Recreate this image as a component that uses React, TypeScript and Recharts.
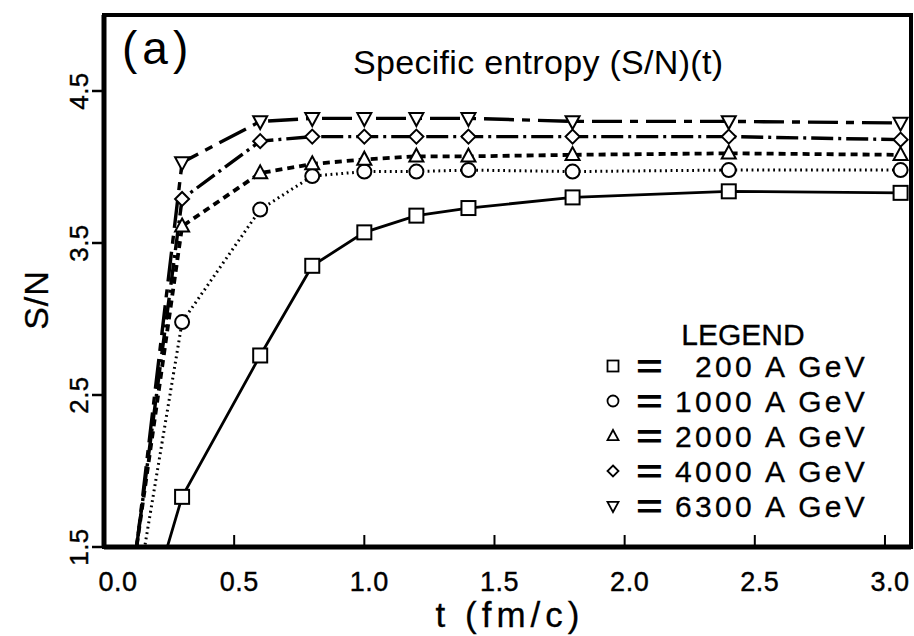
import React from "react";
import { LineChart, Line, XAxis, YAxis, ReferenceArea, Legend } from "recharts";

// time steps (fm/c) and S/N for each beam energy
const times = [0.1, 0.3, 0.6, 0.8, 1.0, 1.2, 1.4, 1.8, 2.4, 3.06];
const sn200 = [0.67, 1.83, 2.76, 3.35, 3.57, 3.68, 3.73, 3.8, 3.84, 3.83];
const sn1000 = [0.92, 2.98, 3.72, 3.94, 3.97, 3.97, 3.98, 3.97, 3.98, 3.98];
const sn2000 = [1.2, 3.61, 3.96, 4.02, 4.05, 4.07, 4.07, 4.08, 4.09, 4.08];
const sn4000 = [1.17, 3.79, 4.17, 4.2, 4.2, 4.2, 4.2, 4.2, 4.2, 4.18];
const sn6300 = [1.13, 4.03, 4.3, 4.32, 4.32, 4.32, 4.32, 4.3, 4.3, 4.29];

const seriesNames = ["200 A GeV", "1000 A GeV", "2000 A GeV", "4000 A GeV", "6300 A GeV"];
const xTicks = [0, 0.5, 1.0, 1.5, 2.0, 2.5, 3.0];
const yTicks = [1.5, 2.5, 3.5, 4.5];

const data = times.map((t, i) => ({
  t,
  e200: sn200[i],
  e1000: sn1000[i],
  e2000: sn2000[i],
  e4000: sn4000[i],
  e6300: sn6300[i],
}));

const series = [
  { key: "e200", shape: "square", dash: undefined, width: 2.8 },
  { key: "e1000", shape: "circle", dash: "1.8 3.6", width: 3 },
  { key: "e2000", shape: "up", dash: "7 5", width: 3.8 },
  { key: "e4000", shape: "diamond", dash: "22 5 3 5", width: 3.4 },
  { key: "e6300", shape: "down", dash: "30 8 8 8", width: 3.4 },
];

const FONT = "'Liberation Sans', Arial, Helvetica, sans-serif";

function Marker({ shape, cx, cy, size, sw }: { shape: string; cx: number; cy: number; size: number; sw: number }) {
  const h = size / 2;
  const common = { fill: "#fff", stroke: "#000", strokeWidth: sw };
  if (shape === "square") return <rect x={cx - h} y={cy - h} width={size} height={size} {...common} />;
  if (shape === "circle") return <circle cx={cx} cy={cy} r={h} {...common} />;
  if (shape === "diamond")
    return <polygon points={`${cx},${cy - h} ${cx + h},${cy} ${cx},${cy + h} ${cx - h},${cy}`} {...common} />;
  if (shape === "up")
    return (
      <polygon
        points={`${cx},${cy - h * 1.1} ${cx + h},${cy + h * 0.75} ${cx - h},${cy + h * 0.75}`}
        {...common}
      />
    );
  return (
    <polygon
      points={`${cx},${cy + h * 1.1} ${cx + h},${cy - h * 0.75} ${cx - h},${cy - h * 0.75}`}
      {...common}
    />
  );
}

function XTick(props: any) {
  const { x, y, payload } = props;
  const v = payload.value as number;
  const dx = v === 0 ? 14 : 5;
  return (
    <g>
      <line x1={x} x2={x} y1={y} y2={y - 12} stroke="#000" strokeWidth={2} />
      <text
        x={x + dx}
        y={y + 44}
        textAnchor="middle"
        fontSize={27}
        fontFamily={FONT}
        fill="#000"
        stroke="#000"
        strokeWidth={0.4}
        letterSpacing={0.5}
      >
        {v.toFixed(1)}
      </text>
    </g>
  );
}

function YTick(props: any) {
  const { x, y, payload } = props;
  return (
    <g>
      <line x1={x - 12} x2={x} y1={y} y2={y} stroke="#000" strokeWidth={2.5} />
      <text
        transform={`translate(${x - 16},${y}) rotate(-90)`}
        textAnchor="middle"
        fontSize={26}
        fontFamily={FONT}
        fill="#000"
        stroke="#000"
        strokeWidth={0.4}
        letterSpacing={0.5}
      >
        {(payload.value as number).toFixed(1)}
      </text>
    </g>
  );
}

function renderLegend(props: any) {
  const payload = (props.payload || []) as any[];
  const order = series.map((s) => s.key);
  const items = [...payload].sort((a, b) => order.indexOf(a.dataKey) - order.indexOf(b.dataKey));
  return (
    <svg width={320} height={240} style={{ overflow: "visible" }}>
      <text x={153} y={45} textAnchor="middle" fontSize={30} fontFamily={FONT} fill="#000" stroke="#000" strokeWidth={0.3}>
        LEGEND
      </text>
      {items.map((it, i) => {
        const s = series.find((q) => q.key === it.dataKey) || series[i];
        const base = 77 + 35 * i;
        const label = String(it.value).startsWith("200 ") ? "\u2007" + it.value : it.value;
        return (
          <g key={s.key}>
            <Marker shape={s.shape} cx={23} cy={base - 11} size={11} sw={1.8} />
            <text
              transform={`translate(46,${base + 1}) scale(1.35,1)`}
              fontSize={34}
              fontFamily={FONT}
              fontWeight="bold"
              fill="#000"
            >
              =
            </text>
            <text
              x={85}
              y={base}
              fontSize={30}
              fontFamily={FONT}
              fill="#000"
              stroke="#000"
              strokeWidth={0.3}
              letterSpacing={3.3}
              style={{ whiteSpace: "pre" }}
            >
              {label}
            </text>
          </g>
        );
      })}
    </svg>
  );
}

export default function App() {
  return (
    <div style={{ position: "absolute", left: 0, top: 0, width: 914, height: 636, background: "#fff" }}>
      <LineChart width={914} height={636} data={data} margin={{ top: 15, right: 3, left: 0, bottom: 0 }}>
        <XAxis
          type="number"
          dataKey="t"
          domain={[0, 3.1]}
          ticks={xTicks}
          interval={0}
          height={89}
          tickSize={0}
          tickMargin={0}
          tickLine={false}
          axisLine={{ stroke: "#000", strokeWidth: 5 }}
          tick={<XTick />}
          allowDataOverflow
        />
        <YAxis
          type="number"
          domain={[1.5, 5]}
          ticks={yTicks}
          interval={0}
          width={104}
          tickSize={0}
          tickMargin={0}
          tickLine={false}
          axisLine={{ stroke: "#000", strokeWidth: 5 }}
          tick={<YTick />}
          allowDataOverflow
        />
        <ReferenceArea x1={0} x2={3.1} y1={1.5} y2={5} fill="none" stroke="#000" strokeWidth={4} ifOverflow="visible" />
        <Legend
          layout="vertical"
          align="center"
          verticalAlign="middle"
          content={renderLegend}
          wrapperStyle={{ left: 590, top: 300, width: 320, height: 240 }}
        />
        {series.map((s, i) => (
          <Line
            key={s.key}
            dataKey={s.key}
            name={seriesNames[i]}
            type="linear"
            stroke="#000"
            strokeWidth={s.width}
            strokeDasharray={s.dash}
            isAnimationActive={false}
            dot={(p: any) =>
              p.payload[s.key] < 1.5 || p.cx == null ? (
                <g key={`${s.key}-${p.index}`} />
              ) : (
                <Marker key={`${s.key}-${p.index}`} shape={s.shape} cx={p.cx} cy={p.cy} size={14} sw={2} />
              )
            }
            activeDot={false}
          />
        ))}
      </LineChart>
      <svg
        width={914}
        height={636}
        style={{ position: "absolute", left: 0, top: 0, pointerEvents: "none" }}
      >
        <text x={122} y={64} fontSize={46} fontFamily={FONT} fill="#000" letterSpacing={5}>
          (a)
        </text>
        <text x={353} y={74} fontSize={34} fontFamily={FONT} fill="#000" letterSpacing={0.3}>
          Specific entropy (S/N)(t)
        </text>
        <text
          transform="translate(48,300) rotate(-90)"
          textAnchor="middle"
          fontSize={34}
          fontFamily={FONT}
          fill="#000"
          stroke="#000"
          strokeWidth={0.3}
          letterSpacing={1}
        >
          S/N
        </text>
        <text
          x={510}
          y={627}
          textAnchor="middle"
          fontSize={35}
          fontFamily={FONT}
          fill="#000"
          stroke="#000"
          strokeWidth={0.3}
          letterSpacing={5}
        >
          t (fm/c)
        </text>
      </svg>
    </div>
  );
}
